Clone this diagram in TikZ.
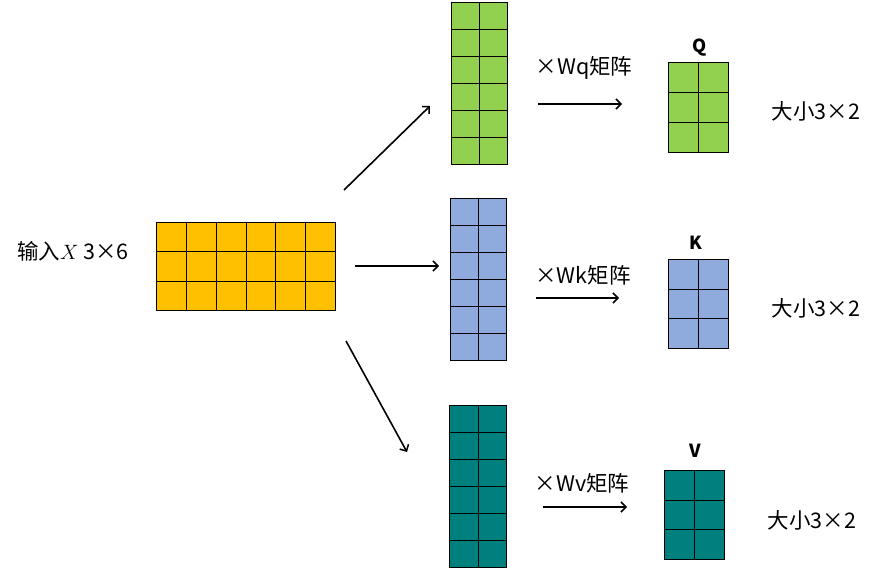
\documentclass[tikz,border=0pt]{standalone}
\usepackage{fontspec}
\usetikzlibrary{arrows.meta,calc}
\newfontfamily\cjk{Noto Sans CJK SC}
\definecolor{cyel}{HTML}{FFC000}
\definecolor{cgrn}{HTML}{92D050}
\definecolor{cblu}{HTML}{8FAADC}
\definecolor{ctea}{HTML}{007F7F}
\tikzset{
  conn/.style={line width=1.6pt,-{Straight Barb[length=5pt,width=10pt,line width=1.5pt]}},
  lbl/.style={font=\cjk\fontsize{21.5}{24}\selectfont,inner sep=0pt},
  hdr/.style={font=\cjk\bfseries\fontsize{18}{20}\selectfont,inner sep=0pt},
  matbox/.style={draw=black,line width=0.8pt,inner sep=0pt,anchor=north west}
}
% \mymat{name}{x}{y}{w}{h}{cols}{rows}{color}
\newcommand{\mymat}[8]{%
  \node[matbox,fill=#8,minimum width=#4pt,minimum height=#5pt] (#1) at (#2,#3) {};
  \foreach \i in {1,...,\numexpr#6-1\relax}{
    \draw[line width=0.8pt] ($(#1.north west)!\i/#6!(#1.north east)$) -- ($(#1.south west)!\i/#6!(#1.south east)$);
  }
  \foreach \j in {1,...,\numexpr#7-1\relax}{
    \draw[line width=0.8pt] ($(#1.north west)!\j/#7!(#1.south west)$) -- ($(#1.north east)!\j/#7!(#1.south east)$);
  }
}
\begin{document}
\begin{tikzpicture}[x=1pt,y=-1pt]
\useasboundingbox (0,0) rectangle (877,575);
\mymat{inp}{156}{221.5}{179}{88.5}{6}{3}{cyel}
\mymat{gq}{451}{2}{56}{162}{2}{6}{cgrn}
\mymat{gk}{450}{198}{56}{162}{2}{6}{cblu}
\mymat{gv}{449}{405}{57}{162}{2}{6}{ctea}
\mymat{mq}{668}{62}{60}{90}{2}{3}{cgrn}
\mymat{mk}{668}{259}{60}{89}{2}{3}{cblu}
\mymat{mv}{664}{470}{60}{89}{2}{3}{ctea}

\node[lbl] (tin) at (73,251) {输入$X$ 3×6};
\node[lbl] (twq) at (584,68) {×Wq矩阵};
\node[lbl] (twk) at (583,275) {×Wk矩阵};
\node[lbl] (twv) at (582,483) {×Wv矩阵};
\node[hdr] (tq) at (700,48) {Q};
\node[hdr] (tk) at (696,243) {K};
\node[hdr] (tv) at (695,451) {V};
\node[lbl] (sq) at (816,111) {大小3×2};
\node[lbl] (sk) at (816,308) {大小3×2};
\node[lbl] (sv) at (812,520) {大小3×2};

\coordinate (a1s) at (344,190); \coordinate (a1e) at (430,106);
\coordinate (a2s) at (355,266); \coordinate (a2e) at (439,266);
\coordinate (a3s) at (346,341); \coordinate (a3e) at (407,452);
\coordinate (bqs) at (538,104); \coordinate (bqe) at (622,104);
\coordinate (bks) at (536,298); \coordinate (bke) at (619,298);
\coordinate (bvs) at (543,507); \coordinate (bve) at (627,507);
\draw[conn] (a1s) -- (a1e);
\draw[conn] (a2s) -- (a2e);
\draw[conn] (a3s) -- (a3e);
\draw[conn] (bqs) -- (bqe);
\draw[conn] (bks) -- (bke);
\draw[conn] (bvs) -- (bve);
\end{tikzpicture}
\end{document}
